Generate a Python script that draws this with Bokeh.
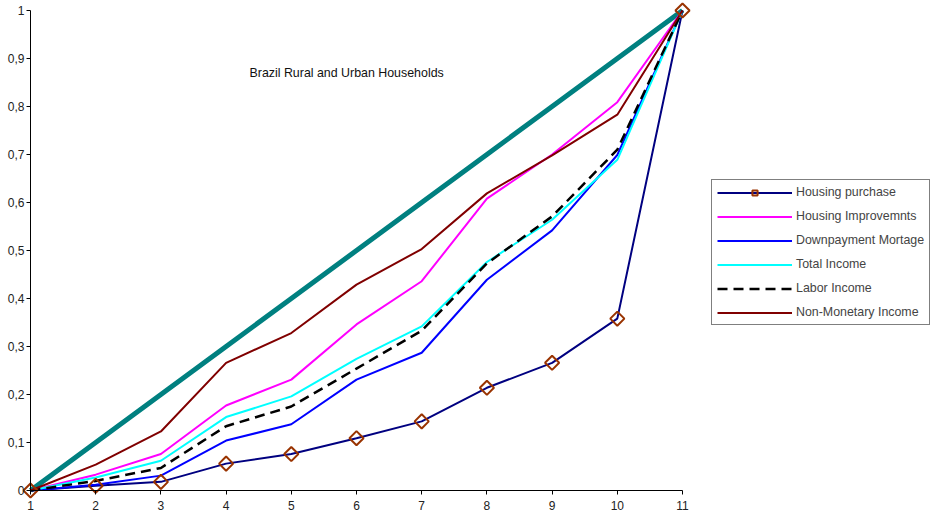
import math
from bokeh.plotting import figure
from bokeh.layouts import row
from bokeh.models import Range1d, FixedTicker, CustomJSTickFormatter, Label, Legend, LegendItem
from bokeh.embed import file_html
from bokeh.resources import INLINE

deciles = [1, 2, 3, 4, 5, 6, 7, 8, 9, 10, 11]
equality = [0.0, 0.1, 0.2, 0.3, 0.4, 0.5, 0.6, 0.7, 0.8, 0.9, 1.0]
housing_purchase = [0, 0.010, 0.018, 0.056, 0.076, 0.109, 0.144, 0.214, 0.266, 0.358, 1.0]
housing_improvements = [0, 0.033, 0.076, 0.177, 0.231, 0.346, 0.436, 0.608, 0.700, 0.809, 1.0]
downpayment_mortgage = [0, 0.012, 0.031, 0.104, 0.138, 0.231, 0.287, 0.439, 0.542, 0.699, 1.0]
total_income = [0, 0.027, 0.062, 0.153, 0.196, 0.274, 0.342, 0.476, 0.564, 0.689, 1.0]
labor_income = [0, 0.020, 0.047, 0.134, 0.175, 0.254, 0.333, 0.473, 0.571, 0.710, 1.0]
non_monetary_income = [0, 0.054, 0.123, 0.266, 0.328, 0.429, 0.503, 0.619, 0.698, 0.783, 1.0]
y_ticks = [0.0, 0.1, 0.2, 0.3, 0.4, 0.5, 0.6, 0.7, 0.8, 0.9, 1.0]
title_text = "Brazil Rural and Urban Households"
series_labels = ["Housing purchase", "Housing Improvemnts", "Downpayment Mortage",
                 "Total Income", "Labor Income", "Non-Monetary Income"]

FONT = "Liberation Sans"

styles = [
    dict(line_color="#000080", line_width=2),
    dict(line_color="#FF00FF", line_width=2),
    dict(line_color="#0000FF", line_width=2),
    dict(line_color="#00FFFF", line_width=2),
    dict(line_color="#000000", line_width=2.5, line_dash="10 6"),
    dict(line_color="#800000", line_width=2),
]
series = [housing_purchase, housing_improvements, downpayment_mortgage,
          total_income, labor_income, non_monetary_income]
marker_style = dict(marker="square", angle=math.pi / 4, size=10, line_color="#993300",
                    line_width=2, fill_color=None)

# ---- main chart (frame covers whole canvas; axes drawn at fixed data locations)
W, H = 695, 518
PX_X, PX_Y = 65.2, 480.0          # pixels per data unit
LEFT_PX, BOTTOM_PX, TOP_PX = 30, 28, 10
x_lo = deciles[0] - LEFT_PX / PX_X
x_hi = deciles[-1] + (W - LEFT_PX - (deciles[-1] - deciles[0]) * PX_X) / PX_X
y_lo = y_ticks[0] - BOTTOM_PX / PX_Y
y_hi = y_ticks[-1] + TOP_PX / PX_Y

p = figure(width=W, height=H, output_backend="svg", toolbar_location=None,
           x_range=Range1d(x_lo, x_hi), y_range=Range1d(y_lo, y_hi),
           min_border_left=0, min_border_right=0, min_border_top=0, min_border_bottom=0)
p.outline_line_color = None
p.xgrid.visible = False
p.ygrid.visible = False

p.line(deciles, equality, line_color="#008080", line_width=5)
for vals, st in zip(series, styles):
    p.line(deciles, vals, **st)
p.scatter(deciles, housing_purchase, **marker_style)

for ax in (p.xaxis[0], p.yaxis[0]):
    ax.axis_line_color = "black"
    ax.major_tick_line_color = "black"
    ax.minor_tick_line_color = None
    ax.major_tick_in = 0
    ax.major_tick_out = 4
    ax.major_label_text_font = FONT
    ax.major_label_text_font_size = "12px"
    ax.major_label_text_color = "#222222"

p.xaxis[0].ticker = FixedTicker(ticks=deciles)
p.xaxis[0].major_label_standoff = 6
p.xaxis[0].fixed_location = y_ticks[0]
p.xaxis[0].bounds = (deciles[0], deciles[-1])
p.yaxis[0].ticker = FixedTicker(ticks=y_ticks)
p.yaxis[0].major_label_standoff = 2
p.yaxis[0].fixed_location = deciles[0]
p.yaxis[0].bounds = (y_ticks[0], y_ticks[-1])
p.yaxis[0].formatter = CustomJSTickFormatter(
    code="const s = (Math.round(tick*10)/10).toString(); return s.replace('.', ',');")

p.add_layout(Label(x=249, y=H - 72, x_units="screen", y_units="screen", text=title_text,
                   text_font=FONT, text_font_size="12.4px", text_baseline="middle",
                   text_color="#111111"))

# ---- legend panel (same borders as main chart so the row aligns them identically)
q = figure(width=934 - W, height=H, output_backend="svg", toolbar_location=None,
           x_range=Range1d(0, 1), y_range=Range1d(0, 1), x_axis_type=None, y_axis_type=None,
           min_border_left=0, min_border_right=0, min_border_top=0, min_border_bottom=0)
q.outline_line_color = None
q.xgrid.visible = False
q.ygrid.visible = False

items = []
for i, (lab, st) in enumerate(zip(series_labels, styles)):
    rs = [q.line([10, 11], [10, 11], **st)]
    if i == 0:
        rs.append(q.scatter([10, 11], [10, 11], **marker_style))
    items.append(LegendItem(label=lab, renderers=rs))

lg = Legend(items=items, location=(711 - W, 193))
lg.border_line_color = "black"
lg.border_line_width = 1
lg.background_fill_color = "white"
lg.label_text_font = FONT
lg.label_text_font_size = "12.4px"
lg.glyph_width = 75
lg.glyph_height = 13
lg.label_height = 13
lg.spacing = 10
lg.padding = 5
lg.label_standoff = 4
lg.margin = 0
q.add_layout(lg, "center")

open("out.html", "w").write(file_html(row(p, q), INLINE))
